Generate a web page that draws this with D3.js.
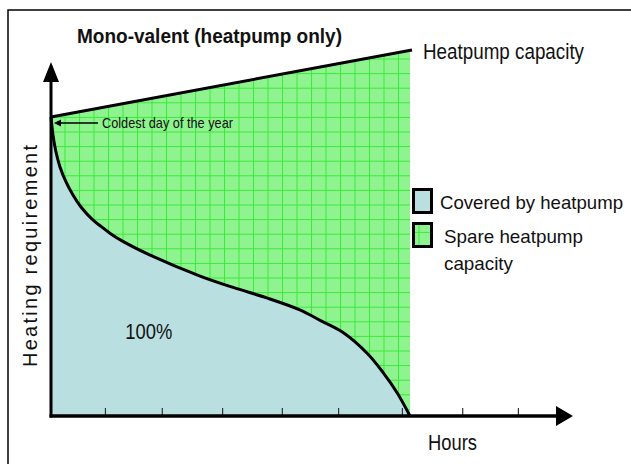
<!DOCTYPE html>
<html>
<head>
<meta charset="utf-8">
<script src="https://cdn.jsdelivr.net/npm/d3@7"></script>
<style>
  body { margin: 0; background: #fff; }
  text { font-family: "Liberation Sans Narrow", "Liberation Sans", Arial, sans-serif; fill: #111; }
</style>
</head>
<body>
<div id="chart"></div>
<script>
// load duration curve
var hours  = [0, 34, 86, 155, 259, 379, 517, 690, 862, 1034, 1240, 1710, 2570, 3140, 3720, 4290, 4640, 5030, 5450, 5720, 5970, 6190];
var demand = [100, 94, 88.3, 83.3, 78.3, 73.9, 69.9, 66.2, 63.4, 60.9, 58.4, 53.8, 46.8, 43, 39.5, 35.5, 32, 28, 21, 14.7, 7.7, 0];

// heatpump capacity line (straight)
var capacityHours = [0, 6190];
var capacity = [100, 122.4];

var tickHours = [930, 1910, 2950, 3980, 4950, 6050, 7090, 8050];
var axisEnd = {hours: 9000, value: 118.4};

var width = 631, height = 464;

var x = d3.scaleLinear()
    .domain([0, 9000])
    .range([51, 573]);

var y = d3.scaleLinear()
    .domain([0, 100])
    .range([416, 117]);

var cap = d3.scaleLinear()
    .domain(capacityHours)
    .range(capacity);

var data = hours.map(function(h, i) { return {h: h, v: demand[i]}; });
var smooth = d3.curveCatmullRom.alpha(0.5);

var svg = d3.select("#chart")
  .append("svg")
    .attr("width", width)
    .attr("height", height);

// grid pattern for the spare capacity
var defs = svg.append("defs");
var pat = defs.append("pattern")
    .attr("id", "grid")
    .attr("patternUnits", "userSpaceOnUse")
    .attr("x", 64.5)
    .attr("y", 131.5)
    .attr("width", 14.5)
    .attr("height", 14.6);
pat.append("rect")
    .attr("width", 14.5).attr("height", 14.6)
    .attr("fill", "#8ff48f");
pat.append("rect")
    .attr("width", 1).attr("height", 14.6)
    .attr("fill", "#3aea3a");
pat.append("rect")
    .attr("width", 14.5).attr("height", 1)
    .attr("fill", "#3aea3a");

// frame
svg.append("rect")
    .attr("x", 8)
    .attr("y", 10)
    .attr("width", 640)
    .attr("height", 470)
    .attr("fill", "none")
    .attr("stroke", "#000")
    .attr("stroke-width", 1.5);

// spare capacity area
var spare = d3.area()
    .x(function(d) { return x(d.h); })
    .y0(function(d) { return y(d.v); })
    .y1(function(d) { return y(cap(d.h)); })
    .curve(smooth);

svg.append("path")
    .datum(data)
    .attr("fill", "url(#grid)")
    .attr("d", spare);

// covered area
var covered = d3.area()
    .x(function(d) { return x(d.h); })
    .y0(y(0))
    .y1(function(d) { return y(d.v); })
    .curve(smooth);

svg.append("path")
    .datum(data)
    .attr("fill", "#b9dfe1")
    .attr("d", covered);

// ticks
svg.append("g")
    .attr("transform", "translate(0," + y(0) + ")")
    .call(d3.axisTop(x).tickValues(tickHours).tickSize(8).tickFormat(""))
    .call(function(g) {
      g.select(".domain").remove();
      g.selectAll("line").attr("stroke", "#333").attr("stroke-width", 1.2);
    });

// demand curve
var line = d3.line()
    .x(function(d) { return x(d.h); })
    .y(function(d) { return y(d.v); })
    .curve(smooth);

svg.append("path")
    .datum(data)
    .attr("fill", "none")
    .attr("stroke", "#000")
    .attr("stroke-width", 3)
    .attr("stroke-linejoin", "round")
    .attr("d", line);

// capacity line
svg.append("line")
    .attr("x1", x(capacityHours[0]))
    .attr("y1", y(capacity[0]))
    .attr("x2", x(capacityHours[1]) + 2)
    .attr("y2", y(capacity[1]))
    .attr("stroke", "#000")
    .attr("stroke-width", 3);

// axes with arrow heads
var x0 = x(0), y0 = y(0);
var xTip = x(axisEnd.hours), yTip = y(axisEnd.value);

svg.append("line")
    .attr("x1", x0).attr("y1", y0 + 1.5)
    .attr("x2", x0).attr("y2", yTip + 16)
    .attr("stroke", "#000").attr("stroke-width", 3);
svg.append("path")
    .attr("d", "M" + x0 + "," + yTip + "L" + (x0 + 8) + "," + (yTip + 20) + "L" + (x0 - 8) + "," + (yTip + 20) + "Z")
    .attr("fill", "#000");

svg.append("line")
    .attr("x1", x0 - 1.5).attr("y1", y0)
    .attr("x2", xTip - 14).attr("y2", y0)
    .attr("stroke", "#000").attr("stroke-width", 3.5);
svg.append("path")
    .attr("d", "M" + xTip + "," + y0 + "L" + (xTip - 17) + "," + (y0 - 10) + "L" + (xTip - 17) + "," + (y0 + 10) + "Z")
    .attr("fill", "#000");

// texts
function label(txt, tx, ty, size, len, weight) {
  return svg.append("text")
      .attr("x", tx)
      .attr("y", ty)
      .attr("font-size", size)
      .attr("font-weight", weight || "normal")
      .attr("textLength", len)
      .attr("lengthAdjust", "spacingAndGlyphs")
      .text(txt);
}

label("Mono-valent (heatpump only)", 77, 43, 21, 265, "bold");
label("Heatpump capacity", x(capacityHours[1]) + 13, y(capacity[1]) + 9, 22, 161);
label("Coldest day of the year", x(0) + 51, y(100) + 11, 15, 131);
label("100%", x(1280), y(25.8), 22, 47);
label("Hours", x(6500), y(0) + 34, 22, 49);

// coldest day pointer
svg.append("line")
    .attr("x1", x(0) + 47).attr("y1", y(100) + 6)
    .attr("x2", x(0) + 8).attr("y2", y(100) + 6)
    .attr("stroke", "#000").attr("stroke-width", 1.5);
svg.append("path")
    .attr("d", "M" + (x(0) + 3) + "," + (y(100) + 6) + "l7,-3.5v7z")
    .attr("fill", "#000");

// y axis title
svg.append("text")
    .attr("transform", "translate(37,367) rotate(-90)")
    .attr("font-size", 20)
    .attr("textLength", 222)
    .attr("lengthAdjust", "spacing")
    .style("font-family", "'Liberation Sans', Arial, sans-serif")
    .text("Heating requirement");

// legend
var legendItems = [
  {fill: "#b9dfe1", lines: ["Covered by heatpump"], len: [183]},
  {fill: "url(#grid)", lines: ["Spare heatpump", "capacity"], len: [139, 69]}
];

var legend = svg.append("g")
    .attr("transform", "translate(412,188)");

legend.selectAll("rect")
    .data(legendItems)
    .enter()
  .append("rect")
    .attr("x", 1.5)
    .attr("y", function(d, i) { return 1.5 + i * 34; })
    .attr("width", 18)
    .attr("height", 23)
    .attr("fill", function(d) { return d.fill; })
    .attr("stroke", "#000")
    .attr("stroke-width", 3);

legendItems.forEach(function(d, i) {
  d.lines.forEach(function(t, j) {
    legend.append("text")
        .attr("x", i === 0 ? 28 : 32)
        .attr("y", 21 + i * 34 + j * 27)
        .attr("font-size", 19)
        .attr("textLength", d.len[j])
        .attr("lengthAdjust", "spacingAndGlyphs")
        .text(t);
  });
});
</script>
</body>
</html>
